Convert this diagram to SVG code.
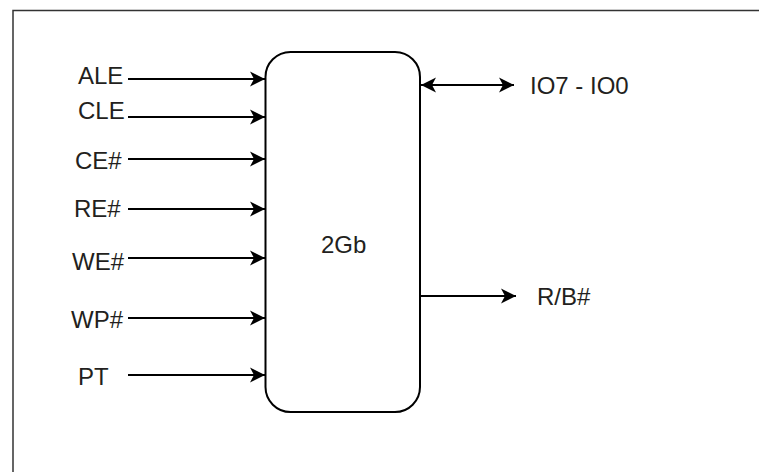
<svg xmlns="http://www.w3.org/2000/svg" width="759" height="472" viewBox="0 0 759 472">
<style>
.lbl{font-family:"Liberation Sans",Arial,sans-serif;font-size:24px;fill:#231f20}
.conn{stroke:#000;stroke-width:2;fill:none}
</style>
<defs>
<marker id="ah" markerUnits="userSpaceOnUse" markerWidth="20" markerHeight="20" viewBox="-16 -10 20 20" refX="0" refY="0" orient="auto-start-reverse">
<path d="M0,0 L-15,-7.5 L-11,0 L-15,7.5 Z" fill="#000"/>
</marker>
</defs>
<rect x="13" y="10.5" width="760" height="480" fill="#fff" stroke="#333" stroke-width="1.5"/>
<g id="chip">
<rect x="265.5" y="52" width="154.5" height="360" rx="25" ry="25" fill="#fff" stroke="#000" stroke-width="2"/>
<text class="lbl" x="321" y="253">2Gb</text>
</g>
<g id="connectors">
<line class="conn" x1="128" y1="79" x2="265" y2="79" marker-end="url(#ah)"/>
<line class="conn" x1="128" y1="117" x2="265" y2="117" marker-end="url(#ah)"/>
<line class="conn" x1="128" y1="159" x2="265" y2="159" marker-end="url(#ah)"/>
<line class="conn" x1="128" y1="209" x2="265" y2="209" marker-end="url(#ah)"/>
<line class="conn" x1="128" y1="258" x2="265" y2="258" marker-end="url(#ah)"/>
<line class="conn" x1="128" y1="318" x2="265" y2="318" marker-end="url(#ah)"/>
<line class="conn" x1="128" y1="375" x2="265" y2="375" marker-end="url(#ah)"/>
<line class="conn" x1="421" y1="85" x2="514" y2="85" marker-start="url(#ah)" marker-end="url(#ah)"/>
<line class="conn" x1="420" y1="296" x2="516" y2="296" marker-end="url(#ah)"/>
</g>
<g id="ALE"><text class="lbl" x="78" y="84">ALE</text></g>
<g id="CLE"><text class="lbl" x="78" y="119">CLE</text></g>
<g id="CE"><text class="lbl" x="75" y="169">CE#</text></g>
<g id="RE"><text class="lbl" x="74" y="217">RE#</text></g>
<g id="WE"><text class="lbl" x="72" y="270">WE#</text></g>
<g id="WP"><text class="lbl" x="71" y="328">WP#</text></g>
<g id="PT"><text class="lbl" x="78" y="385">PT</text></g>
<g id="IO"><text class="lbl" x="530" y="94">IO7 - IO0</text></g>
<g id="RB"><text class="lbl" x="537" y="305">R/B#</text></g>
</svg>
